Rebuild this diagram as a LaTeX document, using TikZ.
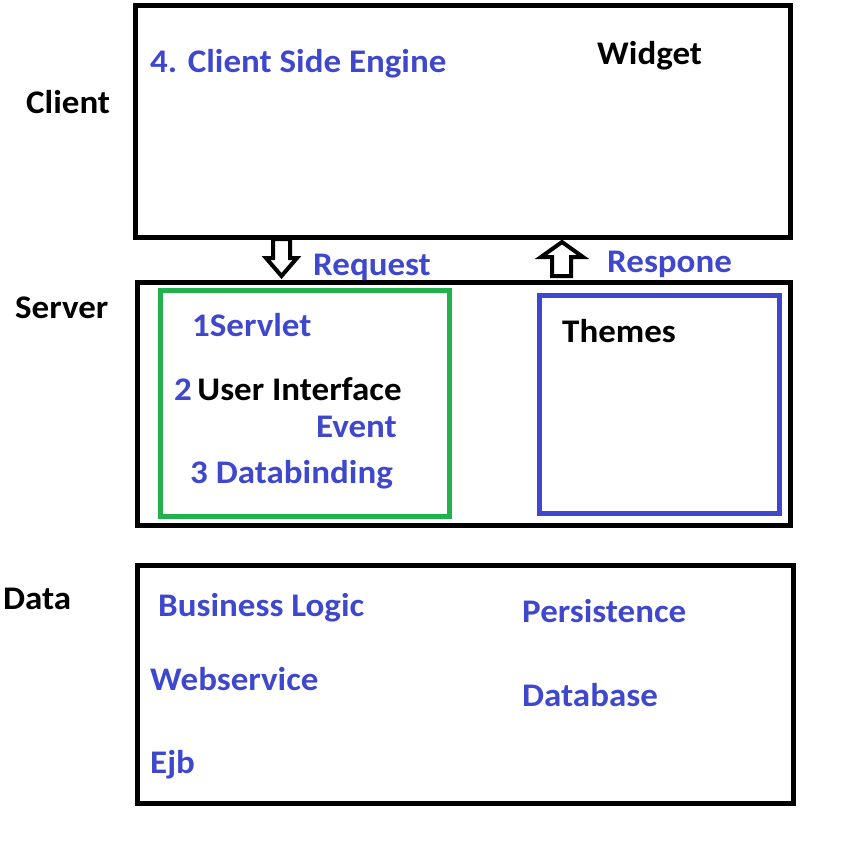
\documentclass[tikz,border=0pt]{standalone}
\usepackage{fontspec}
\newfontfamily\labfont{Carlito}[FakeStretch=1.06]
\definecolor{pblue}{HTML}{3F48CC}
\definecolor{pgreen}{HTML}{22B14C}
\tikzset{
  box/.style={draw=black, line width=5pt},
  lab/.style={anchor=base west, inner sep=0pt, font=\labfont\bfseries\fontsize{33}{36}\selectfont},
  bl/.style={lab, text=pblue},
  bk/.style={lab, text=black},
  blockarrow/.style={draw=black, line width=4pt, line join=miter, fill=white}
}
\begin{document}
\begin{tikzpicture}[x=1pt,y=-1pt]
\useasboundingbox (0,0) rectangle (860,844);
% boxes
\draw[box] (135.5,5.5) rectangle (790.5,237) coordinate (clientbr);
\draw[box] (137,282) rectangle (790.5,525.5);
\draw[box,draw=pgreen] (160.5,290) rectangle (449.5,516.5);
\draw[box,draw=pblue] (539.5,295.5) rectangle (779.5,513.5);
\draw[box] (137,565.5) rectangle (793.5,803);
% block arrows
\draw[blockarrow] (273,239) -- (290,239) -- (290,258) -- (297,258) -- (281.5,276) -- (266,258) -- (273,258) -- cycle;
\draw[blockarrow] (552,276) -- (571,276) -- (571,257) -- (583,257) -- (562,242) -- (541,257) -- (552,257) -- cycle;
% labels
\node[bk] (client) at (26,113) {Client};
\node[bl] (engine) at (150,72) {4. Client Side Engine};
\node[bk] (widget) at (597,64) {Widget};
\node[bl] (request) at (313,275) {Request};
\node[bl] (respone) at (607,272) {Respone};
\node[bk] (server) at (15,318) {Server};
\node[bl] (servlet) at (192,336) {1Servlet};
\node[lab] (ui) at (174,400) {\textcolor{pblue}{2}\,User Interface};
\node[bl] (event) at (316,437) {Event};
\node[bl] (databinding) at (190,483) {3 Databinding};
\node[bk] (themes) at (562,342) {Themes};
\node[bk] (data) at (3,609) {Data};
\node[bl] (business) at (158,616) {Business Logic};
\node[bl] (persistence) at (522,622) {Persistence};
\node[bl] (webservice) at (150,690) {Webservice};
\node[bl] (database) at (522,706) {Database};
\node[bl] (ejb) at (150,773) {Ejb};
\end{tikzpicture}
\end{document}
